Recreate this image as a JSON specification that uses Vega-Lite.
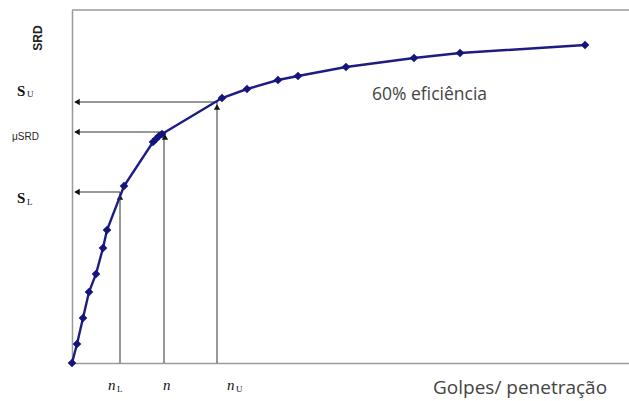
{
  "$schema": "https://vega.github.io/schema/vega-lite/v6.json",
  "width": 557,
  "height": 353,
  "autosize": {"type": "none"},
  "padding": {"left": 72, "top": 10, "right": 0, "bottom": 38},
  "background": "white",
  "config": {"view": {"stroke": null}},
  "datasets": {
    "curve": [
      {"g": 0, "s": 0}, {"g": 5, "s": 19}, {"g": 11, "s": 45}, {"g": 17, "s": 71},
      {"g": 24, "s": 89}, {"g": 31, "s": 115}, {"g": 35, "s": 133}, {"g": 52, "s": 177},
      {"g": 81, "s": 221}, {"g": 84, "s": 224}, {"g": 87, "s": 227}, {"g": 90, "s": 229},
      {"g": 150, "s": 265}, {"g": 175, "s": 274}, {"g": 206, "s": 283}, {"g": 226, "s": 287},
      {"g": 274, "s": 296}, {"g": 342, "s": 305}, {"g": 388, "s": 310}, {"g": 513, "s": 318}
    ],
    "guides": [
      {"x": 3, "x2": 145, "y": 261, "y2": 261},
      {"x": 3, "x2": 92, "y": 231, "y2": 231},
      {"x": 3, "x2": 48, "y": 171, "y2": 171},
      {"x": 48, "x2": 48, "y": 0, "y2": 171},
      {"x": 92, "x2": 92, "y": 0, "y2": 230},
      {"x": 145, "x2": 145, "y": 0, "y2": 261}
    ],
    "arrowsLeft": [{"x": 5, "y": 261}, {"x": 5, "y": 231}, {"x": 5, "y": 171}],
    "arrowsUp": [{"x": 48, "y": 166}, {"x": 93, "y": 226}, {"x": 145, "y": 256}],
    "frameTop": [{"x": 0, "x2": 557, "y": 353}],
    "serifBig": [
      {"x": -55, "y": 267, "t": "S"},
      {"x": -55, "y": 160, "t": "S"}
    ],
    "serifSub": [
      {"x": -45, "y": 266, "t": "U"},
      {"x": -45, "y": 158, "t": "L"},
      {"x": 45, "y": -29, "t": "L"},
      {"x": 164, "y": -29, "t": "U"}
    ],
    "italicN": [
      {"x": 36, "y": -27, "t": "n"},
      {"x": 91, "y": -27, "t": "n"},
      {"x": 155, "y": -27, "t": "n"}
    ],
    "sansText": [
      {"x": 300, "y": 263, "t": "60% eficiência", "fs": 17.5},
      {"x": 361, "y": -31, "t": "Golpes/ penetração", "fs": 19}
    ]
  },
  "layer": [
    {
      "data": {"name": "frameTop"},
      "mark": {"type": "rule", "color": "#9a9a9a", "strokeWidth": 1.5},
      "encoding": {
        "x": {"field": "x", "type": "quantitative", "scale": {"domain": [0, 557], "nice": false}, "axis": {"labels": false, "ticks": false, "title": null, "grid": false, "domainColor": "#9a9a9a", "domainWidth": 1.5}},
        "x2": {"field": "x2"},
        "y": {"field": "y", "type": "quantitative", "scale": {"domain": [0, 353], "nice": false}, "axis": {"labels": false, "ticks": false, "title": null, "grid": false, "domainColor": "#9a9a9a", "domainWidth": 1.5}}
      }
    },
    {
      "data": {"name": "guides"},
      "mark": {"type": "rule", "color": "#333333", "strokeWidth": 1},
      "encoding": {
        "x": {"field": "x", "type": "quantitative"},
        "x2": {"field": "x2"},
        "y": {"field": "y", "type": "quantitative"},
        "y2": {"field": "y2"}
      }
    },
    {
      "data": {"name": "arrowsLeft"},
      "mark": {"type": "point", "shape": "triangle-left", "filled": true, "color": "#111111", "size": 40, "opacity": 1},
      "encoding": {
        "x": {"field": "x", "type": "quantitative"},
        "y": {"field": "y", "type": "quantitative"}
      }
    },
    {
      "data": {"name": "arrowsUp"},
      "mark": {"type": "point", "shape": "triangle-up", "filled": true, "color": "#111111", "size": 40, "opacity": 1},
      "encoding": {
        "x": {"field": "x", "type": "quantitative"},
        "y": {"field": "y", "type": "quantitative"}
      }
    },
    {
      "data": {"name": "curve"},
      "mark": {"type": "line", "color": "#1c1c84", "strokeWidth": 2.4, "point": {"shape": "diamond", "filled": true, "color": "#14147a", "size": 75, "opacity": 1}},
      "encoding": {
        "x": {"field": "g", "type": "quantitative"},
        "y": {"field": "s", "type": "quantitative"}
      }
    },
    {
      "data": {"values": [{"x": -34, "y": 325, "t": "SRD"}]},
      "mark": {"type": "text", "angle": 270, "align": "center", "baseline": "middle", "font": "Liberation Sans", "fontWeight": "bold", "fontSize": 12, "color": "#222222"},
      "encoding": {
        "x": {"field": "x", "type": "quantitative"},
        "y": {"field": "y", "type": "quantitative"},
        "text": {"field": "t"}
      }
    },
    {
      "data": {"values": [{"x": -60, "y": 223, "t": "μSRD"}]},
      "mark": {"type": "text", "align": "left", "baseline": "alphabetic", "font": "Liberation Sans", "fontSize": 10, "color": "#222222"},
      "encoding": {
        "x": {"field": "x", "type": "quantitative"},
        "y": {"field": "y", "type": "quantitative"},
        "text": {"field": "t"}
      }
    },
    {
      "data": {"name": "serifBig"},
      "mark": {"type": "text", "align": "left", "baseline": "alphabetic", "font": "Liberation Serif", "fontWeight": "bold", "fontSize": 15, "color": "#111111"},
      "encoding": {
        "x": {"field": "x", "type": "quantitative"},
        "y": {"field": "y", "type": "quantitative"},
        "text": {"field": "t"}
      }
    },
    {
      "data": {"name": "serifSub"},
      "mark": {"type": "text", "align": "left", "baseline": "alphabetic", "font": "Liberation Serif", "fontSize": 9, "color": "#111111"},
      "encoding": {
        "x": {"field": "x", "type": "quantitative"},
        "y": {"field": "y", "type": "quantitative"},
        "text": {"field": "t"}
      }
    },
    {
      "data": {"name": "italicN"},
      "mark": {"type": "text", "align": "left", "baseline": "alphabetic", "font": "Liberation Serif", "fontStyle": "italic", "fontSize": 15, "color": "#111111"},
      "encoding": {
        "x": {"field": "x", "type": "quantitative"},
        "y": {"field": "y", "type": "quantitative"},
        "text": {"field": "t"}
      }
    },
    {
      "data": {"name": "sansText"},
      "mark": {"type": "text", "align": "left", "baseline": "alphabetic", "font": "Open Sans", "color": "#444444"},
      "encoding": {
        "x": {"field": "x", "type": "quantitative"},
        "y": {"field": "y", "type": "quantitative"},
        "text": {"field": "t"},
        "size": {"field": "fs", "type": "quantitative", "scale": null}
      }
    }
  ]
}
